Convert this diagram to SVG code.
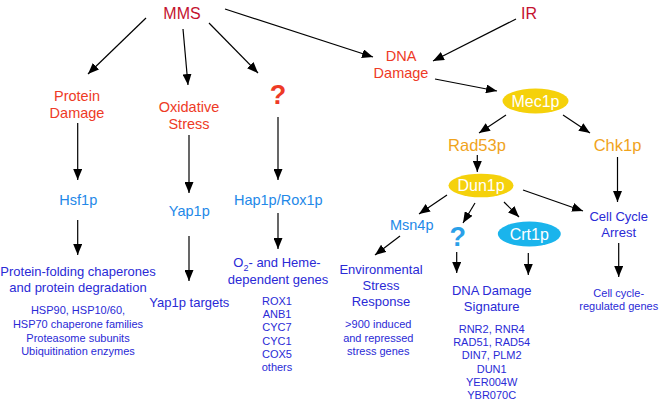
<svg xmlns="http://www.w3.org/2000/svg" width="660" height="403" viewBox="0 0 660 403">
<defs>
<marker id="ah" markerUnits="userSpaceOnUse" markerWidth="11" markerHeight="9" refX="11" refY="4.5" orient="auto">
<path d="M0,0 L11,4.5 L0,9 z" fill="#000"/>
</marker>
<style>
text{font-family:"Liberation Sans",Arial,sans-serif;text-anchor:middle}
.top{fill:#c4122f;font-size:16px}
.red{fill:#ee3a26;font-size:14.5px}
.lb{fill:#2388e8;font-size:14.5px}
.or{fill:#f0a31c;font-size:16.5px}
.wh{fill:#fff;font-size:16px}
.db{fill:#2a2ad6;font-size:13px}
.sm{fill:#2a2ad6;font-size:11px}
.q{font-size:27px;font-weight:bold}
.c line{stroke:#000;stroke-width:1.2;marker-end:url(#ah)}
</style>
</defs>
<rect width="660" height="403" fill="#fff"/>
<g class="c" id="connectors">
<line x1="146" y1="18" x2="88" y2="74"/>
<line x1="183" y1="29" x2="188" y2="85"/>
<line x1="209" y1="23" x2="258" y2="73"/>
<line x1="225" y1="9" x2="373" y2="57"/>
<line x1="516" y1="19" x2="433" y2="61"/>
<line x1="435" y1="79" x2="497" y2="91"/>
<line x1="506" y1="115" x2="479" y2="133"/>
<line x1="563" y1="115" x2="590" y2="133"/>
<line x1="477.3" y1="155" x2="477.3" y2="172"/>
<line x1="447" y1="195" x2="419" y2="214"/>
<line x1="475" y1="203" x2="463" y2="223"/>
<line x1="504" y1="202" x2="519" y2="217"/>
<line x1="523" y1="190" x2="583" y2="211"/>
<line x1="617.5" y1="157" x2="617.5" y2="202"/>
<line x1="77.7" y1="123" x2="77.7" y2="180"/>
<line x1="189" y1="135" x2="189" y2="193"/>
<line x1="278" y1="117" x2="278" y2="180"/>
<line x1="77.7" y1="220" x2="77.7" y2="255"/>
<line x1="189" y1="236" x2="189" y2="281"/>
<line x1="278" y1="213" x2="278" y2="249"/>
<line x1="400" y1="236" x2="375" y2="255"/>
<line x1="456.7" y1="252" x2="456.7" y2="273"/>
<line x1="528.3" y1="253" x2="528.3" y2="275"/>
<line x1="618.7" y1="243" x2="618.7" y2="277"/>
</g>
<g id="mms"><text class="top" x="182" y="19">MMS</text></g>
<g id="ir"><text class="top" x="529" y="19">IR</text></g>
<g id="protein-damage"><text class="red" x="77" y="101">Protein</text><text class="red" x="77" y="118">Damage</text></g>
<g id="oxidative-stress"><text class="red" x="189" y="112">Oxidative</text><text class="red" x="189" y="129">Stress</text></g>
<g id="q-red"><text class="red q" x="278" y="104">?</text></g>
<g id="dna-damage"><text class="red" x="401" y="61">DNA</text><text class="red" x="401" y="78">Damage</text></g>
<g id="mec1p"><ellipse cx="535.5" cy="101" rx="33" ry="12.5" fill="#f5d10b"/><text class="wh" x="535.5" y="106.5">Mec1p</text></g>
<g id="rad53p"><text class="or" x="477" y="151">Rad53p</text></g>
<g id="chk1p"><text class="or" x="617.5" y="151">Chk1p</text></g>
<g id="dun1p"><ellipse cx="481" cy="185.5" rx="32.5" ry="11.8" fill="#f5d10b"/><text class="wh" x="481" y="191">Dun1p</text></g>
<g id="hsf1p"><text class="lb" x="78.3" y="205">Hsf1p</text></g>
<g id="yap1p"><text class="lb" x="189.3" y="216">Yap1p</text></g>
<g id="hap1p"><text class="lb" x="278.3" y="205">Hap1p/Rox1p</text></g>
<g id="msn4p"><text class="lb" x="411.7" y="230">Msn4p</text></g>
<g id="q-blue"><text class="lb q" x="457.7" y="246" style="fill:#2aa0e8">?</text></g>
<g id="crt1p"><ellipse cx="529.3" cy="234" rx="31.5" ry="12.5" fill="#1ab4ec"/><text class="wh" x="529.3" y="239.5">Crt1p</text></g>
<g id="cell-cycle-arrest"><text class="db" x="618.7" y="221">Cell Cycle</text><text class="db" x="618.7" y="237">Arrest</text></g>
<g id="protein-folding">
<text class="db" x="78" y="276">Protein-folding chaperones</text>
<text class="db" x="78" y="292">and protein degradation</text>
<text class="sm" x="78" y="314">HSP90, HSP10/60,</text>
<text class="sm" x="78" y="328">HSP70 chaperone families</text>
<text class="sm" x="78" y="341.5">Proteasome subunits</text>
<text class="sm" x="78" y="355">Ubiquitination enzymes</text>
</g>
<g id="yap1p-targets"><text class="db" x="189.3" y="307">Yap1p targets</text></g>
<g id="o2-heme">
<text class="db" x="277" y="267">O<tspan font-size="9" dy="3.5">2</tspan><tspan dy="-3.5">- and Heme-</tspan></text>
<text class="db" x="278" y="283.5">dependent genes</text>
<text class="sm" x="277" y="304.7">ROX1</text>
<text class="sm" x="277" y="318">ANB1</text>
<text class="sm" x="277" y="331.3">CYC7</text>
<text class="sm" x="277" y="344.7">CYC1</text>
<text class="sm" x="277" y="358">COX5</text>
<text class="sm" x="277" y="371.3">others</text>
</g>
<g id="esr">
<text class="db" x="381" y="274">Environmental</text>
<text class="db" x="381" y="290">Stress</text>
<text class="db" x="381" y="306">Response</text>
<text class="sm" x="378.3" y="328.3">&gt;900 induced</text>
<text class="sm" x="378.3" y="341.7">and repressed</text>
<text class="sm" x="378.3" y="355">stress genes</text>
</g>
<g id="dna-damage-signature">
<text class="db" x="491.7" y="295">DNA Damage</text>
<text class="db" x="491.7" y="311">Signature</text>
<text class="sm" x="491.7" y="332.7">RNR2, RNR4</text>
<text class="sm" x="491.7" y="346">RAD51, RAD54</text>
<text class="sm" x="491.7" y="359.3">DIN7, PLM2</text>
<text class="sm" x="491.7" y="372.7">DUN1</text>
<text class="sm" x="491.7" y="386">YER004W</text>
<text class="sm" x="491.7" y="399.3">YBR070C</text>
</g>
<g id="cell-cycle-genes">
<text class="sm" x="618.7" y="296.7">Cell cycle-</text>
<text class="sm" x="618.7" y="310">regulated genes</text>
</g>
</svg>
